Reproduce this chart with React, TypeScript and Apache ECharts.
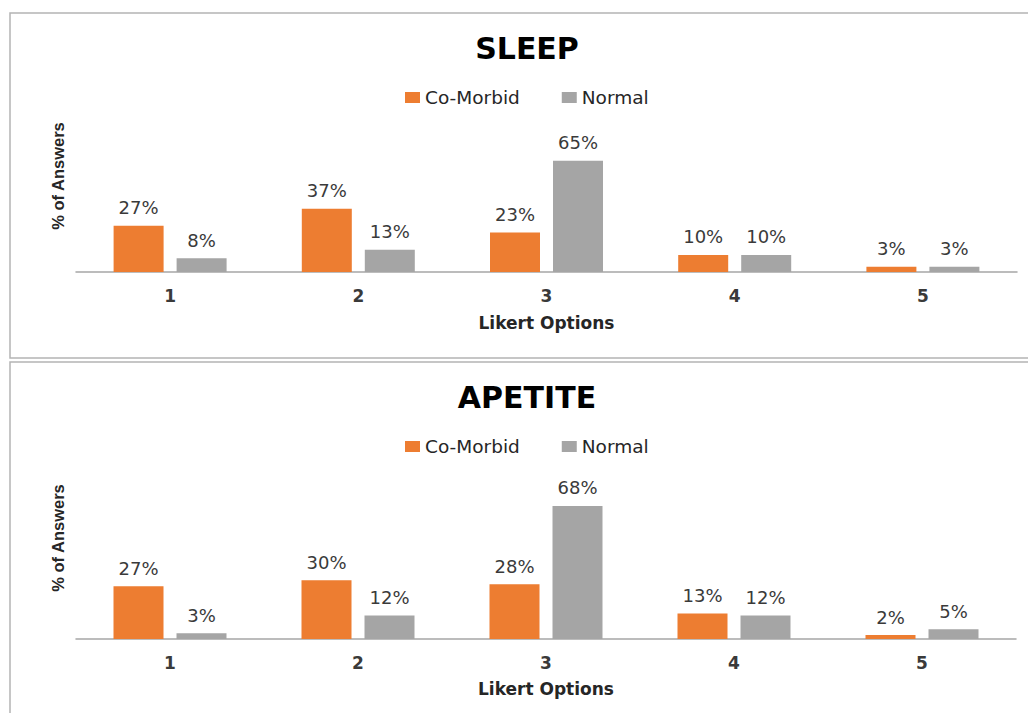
import React, { useEffect, useRef } from "react";
import * as echarts from "echarts";

// Likert answer distribution for two questionnaire items
const likertOptions = ["1", "2", "3", "4", "5"];
const seriesNames = ["Co-Morbid", "Normal"];

const sleepCoMorbid = [27, 37, 23, 10, 3];
const sleepNormal = [8, 13, 65, 10, 3];

const appetiteCoMorbid = [27, 30, 28, 13, 2];
const appetiteNormal = [3, 12, 68, 12, 5];

const panelTitles = ["SLEEP", "APETITE"];
const xAxisTitle = "Likert Options";
const yAxisTitle = "% of Answers";

const ORANGE = "#ED7D31";
const GREY = "#A5A5A5";
const TEXT = "#3a3a3a";
const FONT = "DejaVu Sans";

export default function App() {
  const ref = useRef<HTMLDivElement>(null);

  useEffect(() => {
    if (!ref.current) return;
    const chart = echarts.init(ref.current, undefined, { renderer: "svg" });

    const grids = [
      { left: 76, width: 941, top: 135, height: 137 },
      { left: 76, width: 940, top: 482.5, height: 156.5 },
    ];

    const barSeries = (name: string, data: number[], color: string, idx: number) => ({
      type: "bar",
      name,
      data,
      xAxisIndex: idx,
      yAxisIndex: idx,
      barWidth: 50,
      barGap: "26%",
      itemStyle: { color },
      label: {
        show: true,
        position: "top",
        distance: 9,
        formatter: "{c}%",
        fontFamily: FONT,
        fontSize: 18,
        color: TEXT,
      },
    });

    const xAxis = (idx: number, gap: number) => ({
      type: "category",
      gridIndex: idx,
      data: likertOptions,
      axisLine: { lineStyle: { color: "#a6a6a6", width: 1.5 } },
      axisTick: { show: false },
      axisLabel: {
        margin: 15,
        fontFamily: FONT,
        fontSize: 17,
        fontWeight: 600,
        color: TEXT,
      },
      name: xAxisTitle,
      nameLocation: "middle",
      nameGap: gap,
      nameTextStyle: {
        fontFamily: FONT,
        fontSize: 17,
        fontWeight: "bold",
        color: "#262626",
      },
    });

    const yAxis = (idx: number) => ({
      type: "value",
      gridIndex: idx,
      min: 0,
      max: 80,
      show: false,
      splitLine: { show: false },
    });

    const legend = (top: number) => ({
      data: seriesNames,
      left: 405,
      top,
      padding: 0,
      itemWidth: 15,
      itemHeight: 11,
      itemGap: 42,
      icon: "rect",
      textStyle: { fontFamily: FONT, fontSize: 18.5, color: "#262626" },
    });

    const yTitle = (y: number) => ({
      type: "text",
      x: 58,
      y,
      rotation: Math.PI / 2,
      style: {
        text: yAxisTitle,
        fontFamily: "Liberation Sans",
        fontSize: 16.5,
        fontWeight: "bold",
        fill: "#262626",
        align: "center",
        verticalAlign: "middle",
      },
    });

    chart.setOption({
      animation: false,
      backgroundColor: "#ffffff",
      title: [
        {
          text: panelTitles[0],
          left: 527,
          top: 33,
          padding: 0,
          textAlign: "center",
          textStyle: { fontFamily: FONT, fontSize: 30, fontWeight: "bold", color: "#000" },
        },
        {
          text: panelTitles[1],
          left: 527,
          top: 382,
          padding: 0,
          textAlign: "center",
          textStyle: { fontFamily: FONT, fontSize: 30, fontWeight: "bold", color: "#000" },
        },
      ],
      legend: [legend(88), legend(437)],
      grid: grids,
      xAxis: [xAxis(0, 42), xAxis(1, 41)],
      yAxis: [yAxis(0), yAxis(1)],
      series: [
        barSeries(seriesNames[0], sleepCoMorbid, ORANGE, 0),
        barSeries(seriesNames[1], sleepNormal, GREY, 0),
        barSeries(seriesNames[0], appetiteCoMorbid, ORANGE, 1),
        barSeries(seriesNames[1], appetiteNormal, GREY, 1),
      ],
      graphic: [
        {
          type: "rect",
          shape: { x: 10, y: 13, width: 1030, height: 345 },
          style: { fill: "none", stroke: "#b4b4b4", lineWidth: 1.5 },
          silent: true,
        },
        {
          type: "rect",
          shape: { x: 10, y: 362, width: 1030, height: 370 },
          style: { fill: "none", stroke: "#b4b4b4", lineWidth: 1.5 },
          silent: true,
        },
        yTitle(176),
        yTitle(538),
      ],
    });

    return () => chart.dispose();
  }, []);

  return (
    <div
      ref={ref}
      style={{ position: "absolute", left: 0, top: 0, width: 1028, height: 713 }}
    />
  );
}
